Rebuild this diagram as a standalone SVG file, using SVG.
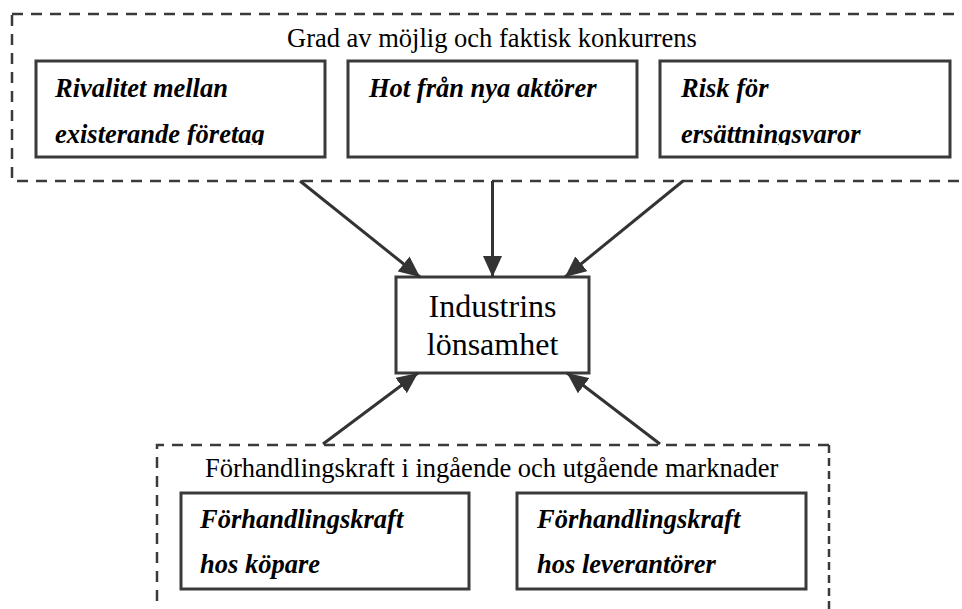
<svg xmlns="http://www.w3.org/2000/svg" width="962" height="609" viewBox="0 0 962 609">
<style>
.dash{fill:none;stroke:#3a3a3a;stroke-width:2.5;stroke-dasharray:11 8}
.dash2{fill:none;stroke:#3a3a3a;stroke-width:2.5;stroke-dasharray:8 5}
.box{fill:#fff;stroke:#3a3a3a;stroke-width:3}
.t{font-family:"Liberation Serif","Times New Roman",serif;font-size:26.5px;fill:#000}
.bi{font-family:"Liberation Serif","Times New Roman",serif;font-size:26.5px;font-weight:bold;font-style:italic;fill:#000}
.c{font-family:"Liberation Serif","Times New Roman",serif;font-size:32px;fill:#000;text-anchor:middle}
.conn{stroke:#333;stroke-width:3;fill:none;marker-end:url(#ah)}
</style>
<defs>
<marker id="ah" markerUnits="userSpaceOnUse" markerWidth="21" markerHeight="19" refX="21" refY="9.5" orient="auto">
<path d="M0,0 L21,9.5 L0,19 z" fill="#333"/>
</marker>
<clipPath id="topclip"><rect x="0" y="0" width="962" height="145"/></clipPath>
</defs>
<rect width="962" height="609" fill="#fff"/>

<g id="group-competition">
<rect class="dash" x="12" y="14" width="960" height="167"/>
<text class="t" x="287" y="47">Grad av möjlig och faktisk konkurrens</text>
</g>
<g id="node-rivalitet">
<rect class="box" x="36" y="61" width="289" height="96"/>
<g clip-path="url(#topclip)">
<text class="bi" x="55" y="97">Rivalitet mellan</text>
<text class="bi" x="55" y="143">existerande företag</text>
</g>
</g>
<g id="node-hot">
<rect class="box" x="348" y="61" width="289" height="96"/>
<text class="bi" x="369" y="97">Hot från nya aktörer</text>
</g>
<g id="node-risk">
<rect class="box" x="660" y="61" width="290" height="96"/>
<g clip-path="url(#topclip)">
<text class="bi" x="681" y="97">Risk för</text>
<text class="bi" x="681" y="143">ersättningsvaror</text>
</g>
</g>

<g id="node-center">
<rect class="box" x="396" y="277" width="193" height="96"/>
<text class="c" x="492.5" y="317">Industrins</text>
<text class="c" x="492.5" y="355">lönsamhet</text>
</g>

<g id="group-bargaining">
<path class="dash" d="M157,620 L157,445 L829,445"/>
<path class="dash2" d="M829,445 L829,620"/>
<text class="t" x="205" y="477">Förhandlingskraft i ingående och utgående marknader</text>
</g>
<g id="node-kopare">
<rect class="box" x="181" y="493" width="288" height="96"/>
<text class="bi" x="200" y="528">Förhandlingskraft</text>
<text class="bi" x="200" y="573">hos köpare</text>
</g>
<g id="node-leverantorer">
<rect class="box" x="517" y="493" width="289" height="96"/>
<text class="bi" x="537" y="528">Förhandlingskraft</text>
<text class="bi" x="537" y="573">hos leverantörer</text>
</g>

<g id="connectors">
<line class="conn" x1="300" y1="181" x2="420" y2="277"/>
<line class="conn" x1="492.5" y1="181" x2="492.5" y2="277"/>
<line class="conn" x1="683" y1="181" x2="565" y2="277"/>
<line class="conn" x1="323" y1="444" x2="418" y2="373"/>
<line class="conn" x1="660" y1="444" x2="567" y2="373"/>
</g>
</svg>
